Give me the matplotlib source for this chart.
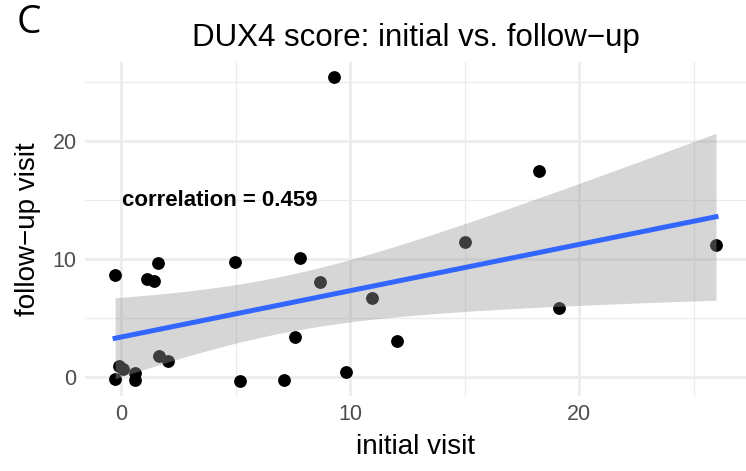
import numpy as np
import matplotlib.pyplot as plt
from matplotlib.ticker import MultipleLocator

# DUX4 scores
initial = [-0.26, 1.60, 1.13, 1.43, 4.96, 1.65, 2.04, -0.26, -0.10, 0.10,
           0.60, 0.60, 5.17, 7.09, 9.30, 7.83, 8.70, 10.96, 7.57, 12.04,
           9.83, 15.00, 18.26, 19.13, 25.96]
followup = [8.64, 9.70, 8.30, 8.20, 9.80, 1.80, 1.36, -0.10, 1.00, 0.70,
            0.40, -0.25, -0.30, -0.25, 25.40, 10.08, 8.05, 6.70, 3.40, 3.10,
            0.42, 11.50, 17.50, 5.85, 11.20]
corr_label = "correlation = 0.459"

x = np.array(initial)
y = np.array(followup)

plt.rcParams['font.family'] = ['Liberation Sans', 'DejaVu Sans']

fig = plt.figure(figsize=(7.46, 4.71), dpi=100)
ax = fig.add_axes([0.114, 0.159, 0.886, 0.709])

# linear fit + 95% confidence band (like geom_smooth(method = "lm"))
n = len(x)
slope, intercept = np.polyfit(x, y, 1)
xs = np.linspace(x.min(), x.max(), 200)
ys = intercept + slope * xs
resid = y - (intercept + slope * x)
s = np.sqrt(np.sum(resid ** 2) / (n - 2))
t_crit = 2.069  # t quantile 0.975, df = 23
se = s * np.sqrt(1 / n + (xs - x.mean()) ** 2 / np.sum((x - x.mean()) ** 2))

ax.scatter(x, y, s=85, color='black', linewidths=0, zorder=2)
ax.fill_between(xs, ys - t_crit * se, ys + t_crit * se, color='#999999',
                alpha=0.4, linewidth=0, zorder=3)
ax.plot(xs, ys, color='#3366FF', linewidth=3.6, zorder=4)

ax.text(4.3, 15.0, corr_label, ha='center', va='center', fontsize=16,
        fontweight='bold', color='black', zorder=5)

# ggplot-style 5% expansion
xr = x.max() - x.min()
yr = y.max() - y.min()
ax.set_xlim(x.min() - 0.05 * xr, x.max() + 0.05 * xr)
ax.set_ylim(y.min() - 0.05 * yr, y.max() + 0.05 * yr)

ax.xaxis.set_major_locator(MultipleLocator(10))
ax.yaxis.set_major_locator(MultipleLocator(10))
ax.xaxis.set_minor_locator(MultipleLocator(5))
ax.yaxis.set_minor_locator(MultipleLocator(5))
ax.grid(which='major', color='#ebebeb', linewidth=1.8, zorder=0)
ax.grid(which='minor', color='#ebebeb', linewidth=0.9, zorder=0)
ax.set_axisbelow(True)
for sp in ax.spines.values():
    sp.set_visible(False)
ax.tick_params(which='both', length=0, labelsize=15.5, labelcolor='#4d4d4d', pad=6)

ax.set_xlabel('initial visit', fontsize=20, labelpad=6)
ax.set_ylabel('follow\u2212up visit', fontsize=20, labelpad=8)
ax.set_title('DUX4 score: initial vs. follow\u2212up', fontsize=22.5, pad=12)

fig.text(0.022, 0.952, 'C', fontsize=28, family='Open Sans', va='center')

fig.savefig('out.png', dpi=100)
